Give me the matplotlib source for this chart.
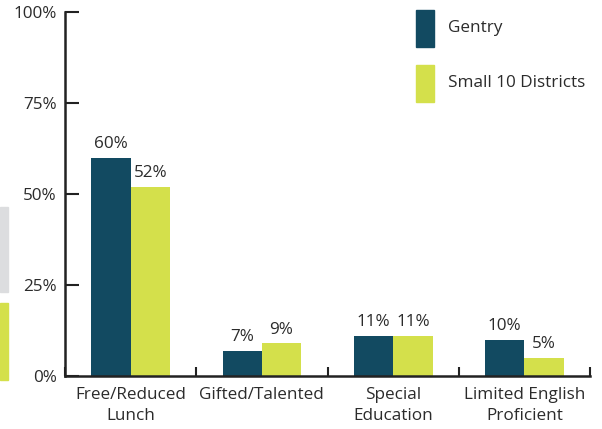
import matplotlib.pyplot as plt
import numpy as np
from matplotlib.patches import Rectangle

plt.rcParams['font.family'] = ['Open Sans', 'DejaVu Sans']

###data
categories = ['Free/Reduced\nLunch', 'Gifted/Talented', 'Special\nEducation', 'Limited English\nProficient']
gentry = [60, 7, 11, 10]
small10 = [52, 9, 11, 5]
series_names = ['Gentry', 'Small 10 Districts']
yticks = [0, 25, 50, 75, 100]

dark = '#124a61'
lime = '#d4e04b'
txt = '#2b2b2b'
fs = 12.3

fig = plt.figure(figsize=(6.02, 4.29), dpi=100)
ax = fig.add_axes([65/602, 1-376/429, 525/602, 364/429])

x = np.arange(len(categories))
w = 0.3
b1 = ax.bar(x - w/2, gentry, w, color=dark)
b2 = ax.bar(x + w/2, small10, w, color=lime)

#value labels above bars
for bars, vals in [(b1, gentry), (b2, small10)]:
    for r, v in zip(bars, vals):
        ax.annotate(f'{v}%', (r.get_x() + r.get_width()/2, v), xytext=(0, 4),
                    textcoords='offset points', ha='center', va='bottom',
                    fontsize=fs, color=txt)

ax.set_xlim(-0.5, len(categories) - 0.5)
ax.set_ylim(0, 100)
ax.set_yticks(yticks)
ax.set_yticklabels([f'{t}%' for t in yticks])
ax.set_xticks(x)
ax.set_xticklabels(categories, linespacing=1.4)
ax.set_xticks(np.arange(len(categories) + 1) - 0.5, minor=True)

for s in ['top', 'right']:
    ax.spines[s].set_visible(False)
for s in ['left', 'bottom']:
    ax.spines[s].set_linewidth(1.8)
    ax.spines[s].set_color('#222222')

ax.tick_params(axis='y', direction='in', length=10, width=1.5, pad=6,
               labelsize=fs, labelcolor=txt, color='#222222')
ax.tick_params(axis='x', which='major', length=0, pad=8, labelsize=fs, labelcolor=txt)
ax.tick_params(axis='x', which='minor', direction='in', length=6.5, width=1.5, color='#222222')

#legend drawn as boxes in figure pixels
for i, (name, col) in enumerate(zip(series_names, [dark, lime])):
    top = 10 + i*55
    fig.patches.append(Rectangle((416/602, 1-(top+37)/429), 18/602, 37/429,
                                 transform=fig.transFigure, color=col))
    fig.text(448/602, 1-(top+18)/429, name, ha='left', va='center',
             fontsize=fs, color=txt)

#pieces of a neighbouring chart cut off at the left edge
fig.patches.append(Rectangle((0, 1-292/429), 8/602, 85/429,
                             transform=fig.transFigure, color='#dcdddf'))
fig.patches.append(Rectangle((0, 1-380/429), 8/602, 77/429,
                             transform=fig.transFigure, color=lime))

fig.savefig('out.png', dpi=100)
